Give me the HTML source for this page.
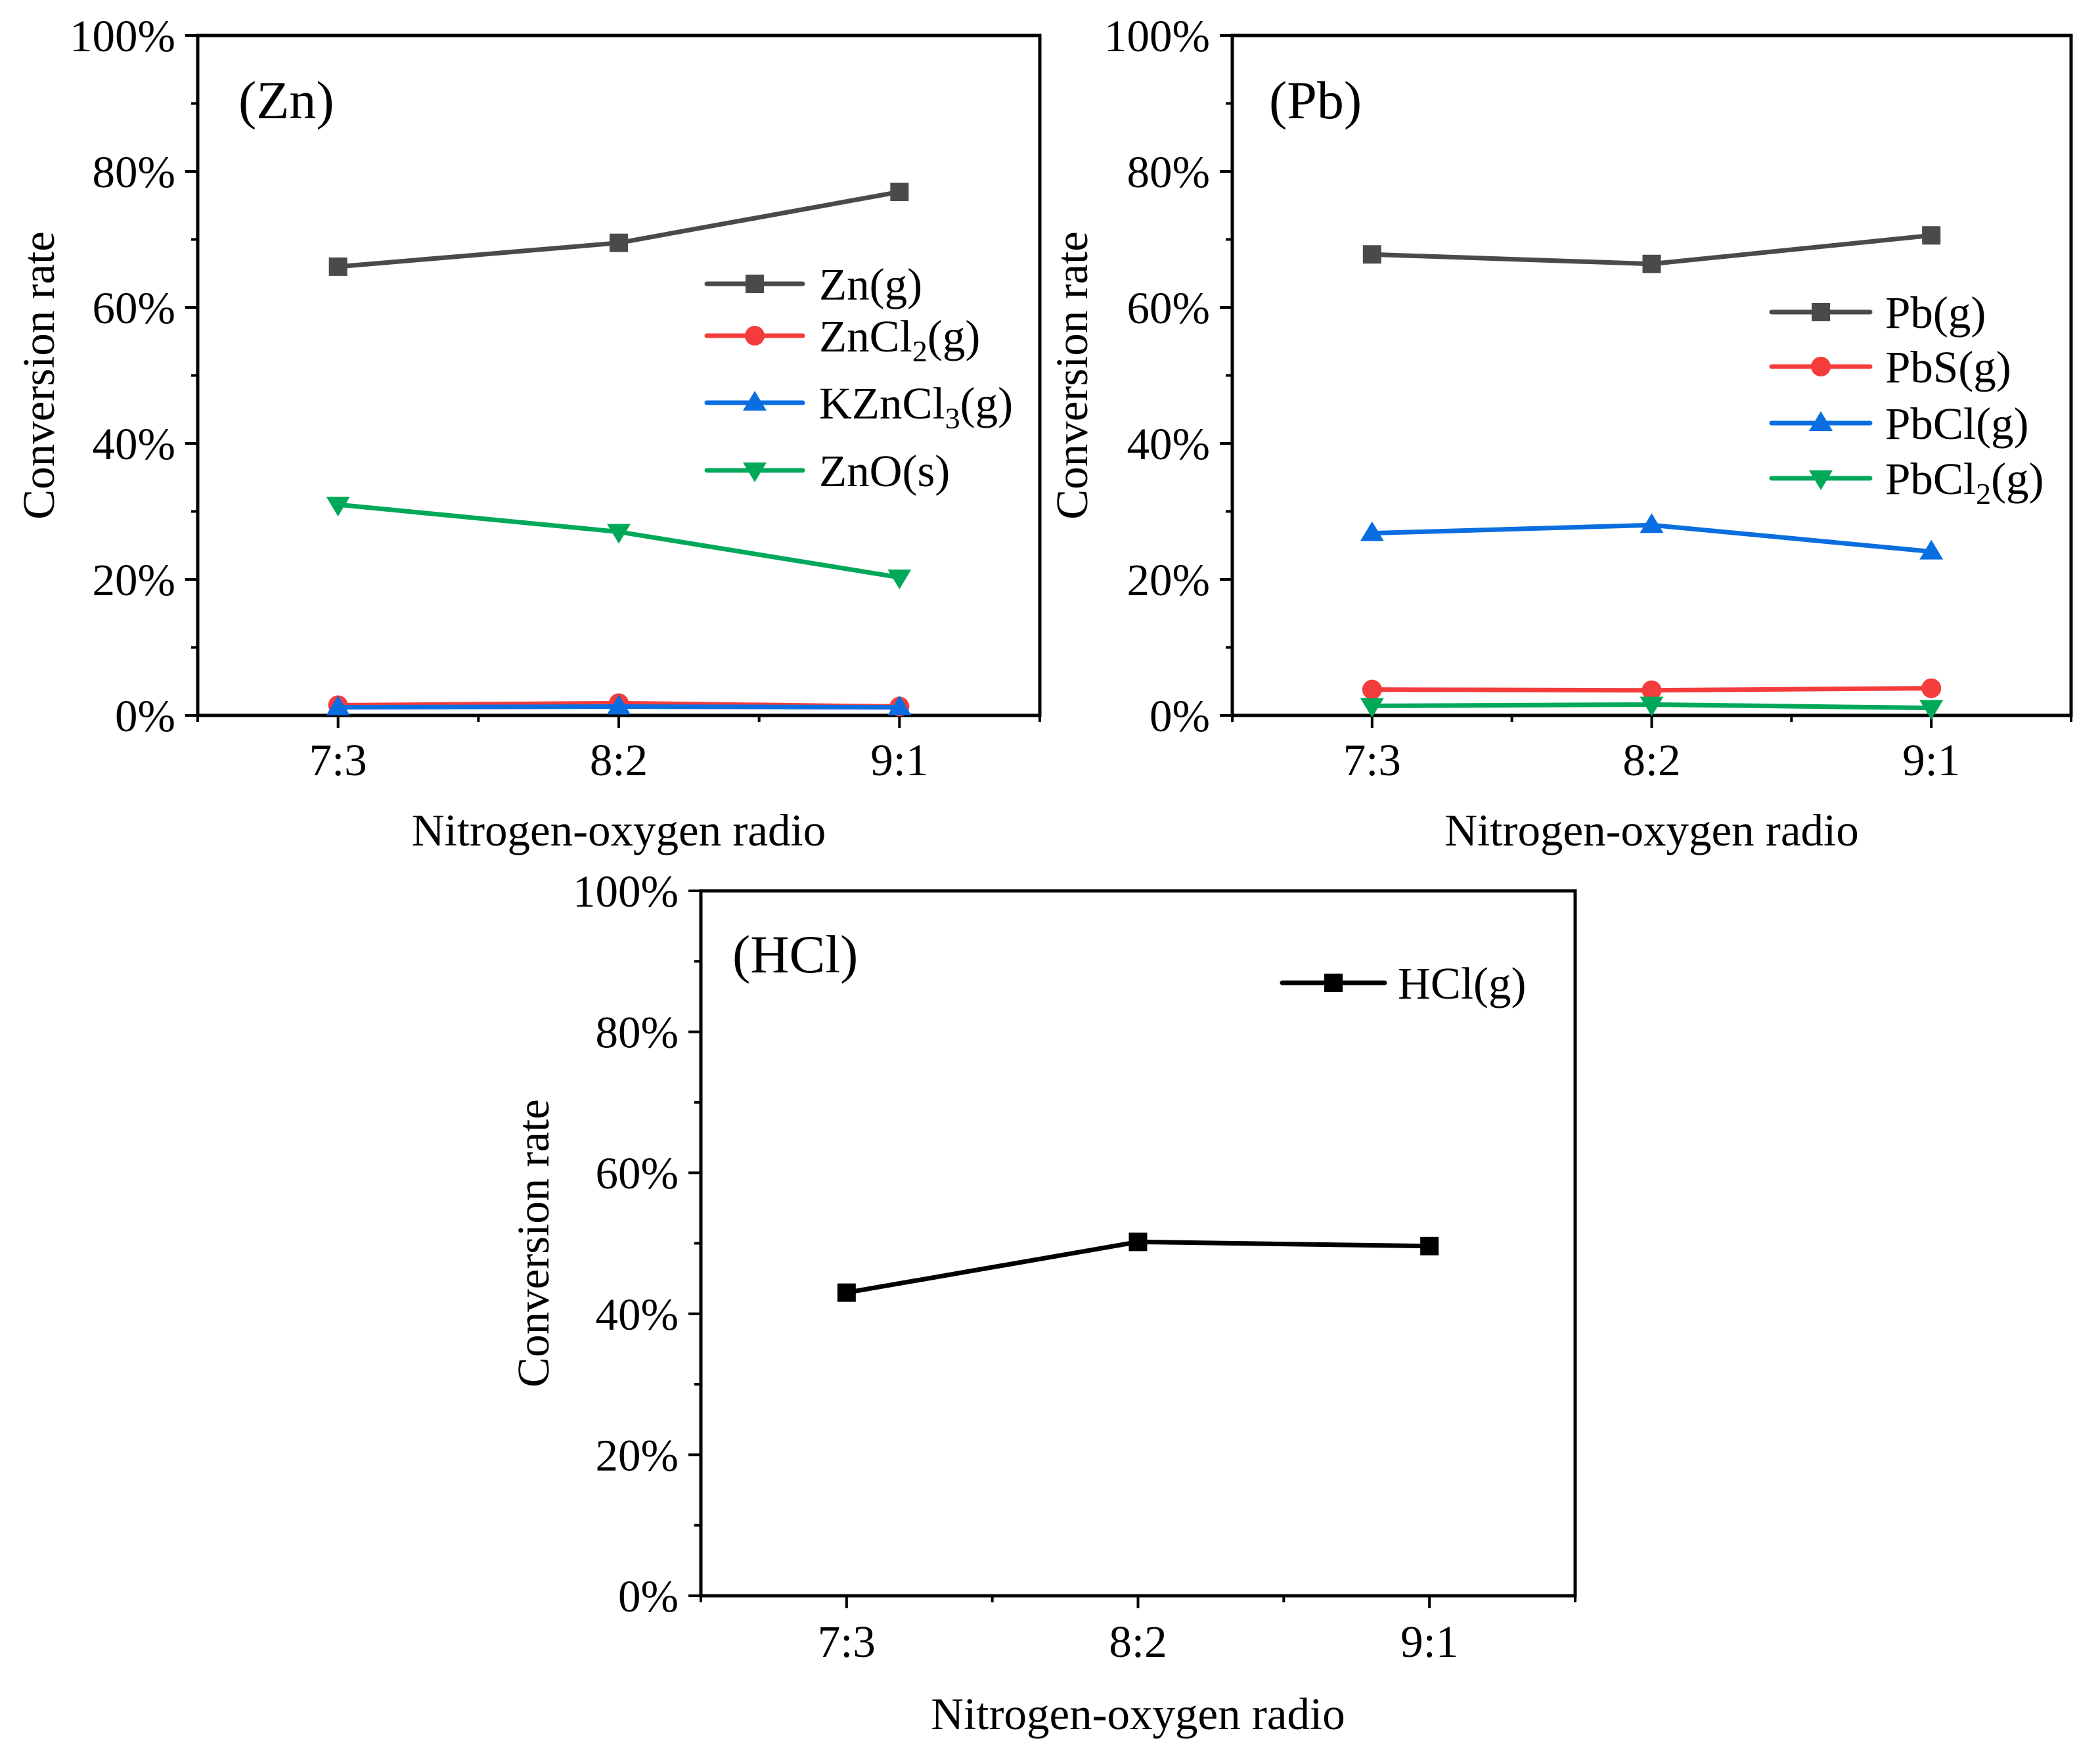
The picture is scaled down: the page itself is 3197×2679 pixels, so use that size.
<!DOCTYPE html>
<html><head><meta charset="utf-8"><style>
html,body{margin:0;padding:0;background:#fff}
svg{display:block}
text{font-family:"Liberation Serif",serif;fill:#000}
</style></head><body>
<svg id="fig" width="3197" height="2679" viewBox="0 0 3197 2679" xmlns="http://www.w3.org/2000/svg"></svg>
<script>
const categories = ["7:3","8:2","9:1"];
const yTicks = [0,20,40,60,80,100];
const znG = [66, 69.5, 77];
const znCl2 = [1.5, 1.8, 1.3];
const kznCl3 = [1.2, 1.3, 1.2];
const znO = [31, 27, 20.3];
const pbG = [67.8, 66.4, 70.6];
const pbS = [3.8, 3.7, 4.0];
const pbCl = [26.8, 28, 24.1];
const pbCl2 = [1.4, 1.6, 1.1];
const hclG = [43, 50.2, 49.6];

const NS = "http://www.w3.org/2000/svg";
const svg = document.getElementById('fig');
const FS = 69;
function el(tag, attrs, parent, txt){
  const e = document.createElementNS(NS, tag);
  for (const k in attrs) e.setAttribute(k, attrs[k]);
  if (txt !== undefined) e.textContent = txt;
  (parent||svg).appendChild(e);
  return e;
}
const C = {gray:"#4a4a4a", red:"#f43c3c", blue:"#0a6ee0", green:"#00a85a", black:"#000"};

function marker(g, shape, x, y, color){
  let m;
  if (shape==='sq') m = el('rect',{x:x-14,y:y-14,width:28,height:28,fill:color},g);
  else if (shape==='ci') m = el('circle',{cx:x,cy:y,r:15,fill:color},g);
  else if (shape==='up') m = el('polygon',{points:`${x},${y-18} ${x-18},${y+12} ${x+18},${y+12}`,fill:color},g);
  else m = el('polygon',{points:`${x},${y+18} ${x-18},${y-12} ${x+18},${y-12}`,fill:color},g);
  
  
  return m;
}

function panel(cfg){
  const {L,R,T,B,name,label,series,legend,xTitleY,tickLabelY,yTitleX} = cfg;
  const g = el('g',{});
  
  
  const xs = i => L + (R-L)*(2*i+1)/6;
  const ys = v => B - (B-T)*v/100;
  const fr = el('rect',{x:L,y:T,width:R-L,height:B-T,fill:'none',stroke:'#000','stroke-width':5},g);
  
  
  for (let k=0;k<=10;k++){
    const y = ys(k*10);
    const major = k%2===0;
    el('line',{x1:L-(major?19:10),x2:L,y1:y,y2:y,stroke:'#000','stroke-width':4},g);
  }
  yTicks.forEach(v=>{
    const t = el('text',{x:L-34,y:ys(v)+24,'text-anchor':'end','font-size':FS},g,v+'%');
    
    
  });
  for (let k=0;k<=6;k++){
    const x = L+(R-L)*k/6;
    el('line',{x1:x,x2:x,y1:B,y2:B+(k%2===1?19:10),stroke:'#000','stroke-width':4},g);
  }
  categories.forEach((c,i)=>{
    const t = el('text',{x:xs(i),y:tickLabelY,'text-anchor':'middle','font-size':FS},g,c);
    
    
  });
  const xt = el('text',{x:(L+R)/2,y:xTitleY,'text-anchor':'middle','font-size':FS},g,'Nitrogen-oxygen radio');
  
  
  const yc = (T+B)/2;
  const yt = el('text',{x:yTitleX,y:yc,'text-anchor':'middle','font-size':FS,transform:`rotate(-90 ${yTitleX} ${yc})`},g,'Conversion rate');
  
  
  const pl = el('text',{x:label.x,y:label.y,'font-size':82},g,label.t);
  
  
  series.forEach(s=>{
    const sg = el('g',{},g);
    
    
    const pts = s.data.map((v,i)=>xs(i)+','+ys(v)).join(' ');
    el('polyline',{points:pts,fill:'none',stroke:s.color,'stroke-width':7,'stroke-linejoin':'round'},sg);
    s.data.forEach((v,i)=>marker(sg,s.shape,xs(i),ys(v),s.color));
  });
  legend.items.forEach((s,j)=>{
    const y = legend.ys[j];
    const lg = el('g',{},g);
    
    
    el('line',{x1:legend.x1,x2:legend.x2,y1:y,y2:y,stroke:s.color,'stroke-width':7,'stroke-linecap':'round'},lg);
    marker(lg,s.shape,(legend.x1+legend.x2)/2,y,s.color);
    const t = el('text',{x:legend.tx,y:y+24,'font-size':FS},lg);
    if (s.sub){
      const a = document.createElementNS(NS,'tspan'); a.textContent = s.pre; t.appendChild(a);
      const b = document.createElementNS(NS,'tspan'); b.textContent = s.sub; b.setAttribute('font-size','46'); b.setAttribute('dy','15'); t.appendChild(b);
      const c = document.createElementNS(NS,'tspan'); c.textContent = s.post; c.setAttribute('dy','-15'); t.appendChild(c);
    } else t.textContent = s.pre;
  });
}

const znSeries = [
  {id:'zn-g',data:znG,color:C.gray,shape:'sq',pre:'Zn(g)'},
  {id:'zncl2-g',data:znCl2,color:C.red,shape:'ci',pre:'ZnCl',sub:'2',post:'(g)'},
  {id:'kzncl3-g',data:kznCl3,color:C.blue,shape:'up',pre:'KZnCl',sub:'3',post:'(g)'},
  {id:'zno-s',data:znO,color:C.green,shape:'dn',pre:'ZnO(s)'}
];
panel({L:301,R:1583,T:54,B:1089,name:'zn',label:{x:363,y:180,t:'(Zn)'},series:znSeries,
  legend:{x1:1076,x2:1222,tx:1247,ys:[432,511,613,716],items:znSeries},
  xTitleY:1287,tickLabelY:1180,yTitleX:82});

const pbSeries = [
  {id:'pb-g',data:pbG,color:C.gray,shape:'sq',pre:'Pb(g)'},
  {id:'pbs-g',data:pbS,color:C.red,shape:'ci',pre:'PbS(g)'},
  {id:'pbcl-g',data:pbCl,color:C.blue,shape:'up',pre:'PbCl(g)'},
  {id:'pbcl2-g',data:pbCl2,color:C.green,shape:'dn',pre:'PbCl',sub:'2',post:'(g)'}
];
panel({L:1876,R:3153,T:54,B:1089,name:'pb',label:{x:1932,y:180,t:'(Pb)'},series:pbSeries,
  legend:{x1:2697,x2:2847,tx:2870,ys:[475,558,644,728],items:pbSeries},
  xTitleY:1287,tickLabelY:1180,yTitleX:1655});

const hclSeries = [{id:'hcl-g',data:hclG,color:C.black,shape:'sq',pre:'HCl(g)'}];
panel({L:1067,R:2398,T:1356,B:2429,name:'hcl',label:{x:1115,y:1480,t:'(HCl)'},series:hclSeries,
  legend:{x1:1952,x2:2108,tx:2128,ys:[1496],items:hclSeries},
  xTitleY:2632,tickLabelY:2522,yTitleX:835});
</script>
</body></html>
